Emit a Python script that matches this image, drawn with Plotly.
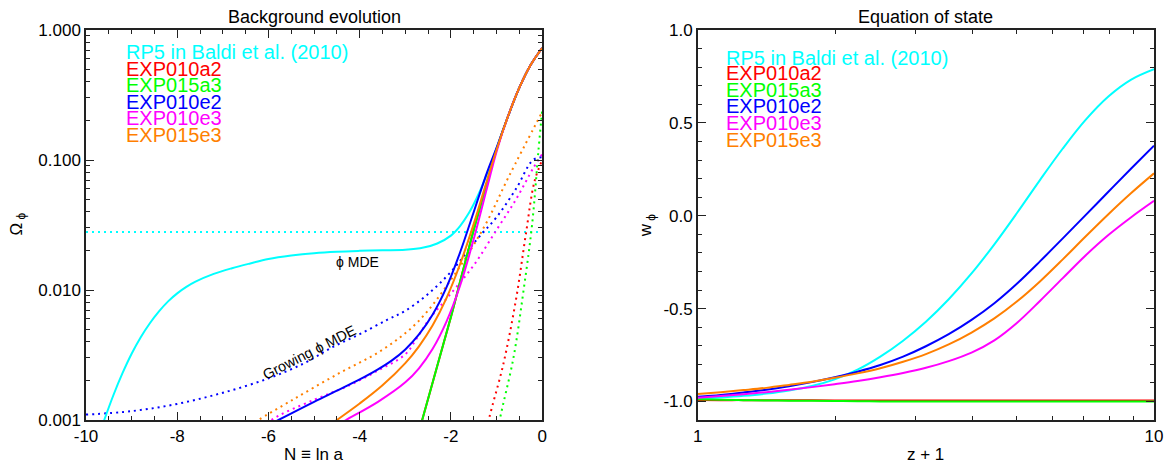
import plotly.graph_objects as go

# ---------------- Background evolution: Omega_phi vs N = ln a ----------------
rp5_N = [-9.8, -9.6, -9.4, -9.2, -9.0, -8.8, -8.6, -8.4, -8.2, -8.0, -7.8, -7.6, -7.2, -6.8,
         -6.4, -6.0, -5.5, -5.0, -4.5, -4.0, -3.5, -3.0, -2.6, -2.3, -2.0, -1.8, -1.6, -1.4,
         -1.2, -1.0, -0.75, -0.5, -0.25, 0.0]
rp5_om = [0.00063, 0.001, 0.00155, 0.00229, 0.00323, 0.00433, 0.00555, 0.00685, 0.00818,
          0.00942, 0.01056, 0.01159, 0.0133, 0.0147, 0.0160, 0.0173, 0.0184, 0.0192, 0.0197,
          0.0200, 0.0202, 0.0204, 0.0212, 0.0228, 0.0262, 0.0310, 0.0394, 0.0540, 0.0795,
          0.123, 0.216, 0.36, 0.54, 0.727]
rp5_mde_N = [-10.0, 0.0]
rp5_mde_om = [0.0279, 0.0279]

a2_N = [-2.75, -2.63, -2.3, -2.0, -1.75, -1.5, -1.25, -1.0, -0.75, -0.5, -0.25, 0.0]
a2_om = [0.00071, 0.001, 0.0026, 0.0062, 0.0135, 0.029, 0.059, 0.12, 0.216, 0.36, 0.54, 0.727]
a3_N = list(a2_N)
a3_om = list(a2_om)

e2_N = [-5.95, -5.78, -5.0, -4.5, -4.0, -3.6, -3.3, -3.0, -2.7, -2.4, -2.1, -1.8, -1.5,
        -1.2, -1.0, -0.75, -0.5, -0.25, 0.0]
e2_om = [0.00093, 0.001, 0.00138, 0.00168, 0.00205, 0.00245, 0.00286, 0.00349, 0.00455,
         0.00648, 0.01043, 0.01943, 0.03984, 0.0818, 0.124, 0.216, 0.36, 0.54, 0.727]

e3_N = [-4.5, -4.3, -3.6, -3.0, -2.7, -2.4, -2.1, -1.8, -1.5, -1.2, -1.0, -0.75, -0.5,
        -0.25, 0.0]
e3_om = [0.00091, 0.001, 0.00138, 0.00195, 0.0025, 0.00353, 0.00569, 0.01078, 0.0247,
         0.0627, 0.116, 0.216, 0.36, 0.54, 0.727]

e15_N = [-4.7, -4.5, -4.0, -3.5, -3.0, -2.7, -2.4, -2.1, -1.8, -1.5, -1.2, -1.0, -0.75,
         -0.5, -0.25, 0.0]
e15_om = [0.00089, 0.001, 0.00134, 0.00185, 0.00274, 0.00369, 0.00535, 0.00862, 0.01578,
          0.03225, 0.0714, 0.12, 0.216, 0.36, 0.54, 0.727]

# growing-MDE branches (dotted)
a2_g_N = [-1.25, -1.17, -0.85, -0.57, -0.35, -0.17, 0.0]
a2_g_om = [0.0007, 0.001, 0.0027, 0.0086, 0.028, 0.068, 0.1]
a3_g_N = [-1.0, -0.93, -0.63, -0.41, -0.22, -0.08, 0.0]
a3_g_om = [0.0007, 0.001, 0.003, 0.0098, 0.032, 0.12, 0.24]
e2_g_N = [-10.0, -9.0, -8.0, -7.0, -6.0, -5.2, -4.6, -4.0, -3.4, -3.0, -2.5, -2.0, -1.43,
          -1.0, -0.57, -0.2, 0.0]
e2_g_om = [0.0011, 0.00117, 0.00133, 0.00162, 0.00209, 0.00275, 0.00363, 0.00457, 0.00589,
           0.00692, 0.00933, 0.0138, 0.0245, 0.0363, 0.0603, 0.1, 0.105]
e3_g_N = [-6.1, -5.93, -5.0, -4.3, -3.6, -3.0, -2.74, -2.5, -2.0, -1.5, -1.0, -0.57, -0.2, 0.0]
e3_g_om = [0.00085, 0.001, 0.00143, 0.0018, 0.0024, 0.0032, 0.0043, 0.0058, 0.0094, 0.0155,
           0.029, 0.05, 0.086, 0.111]
e15_g_N = [-6.4, -6.22, -5.5, -4.5, -3.5, -2.74, -2.02, -1.28, -0.72, 0.0]
e15_g_om = [0.0009, 0.001, 0.00141, 0.00224, 0.00347, 0.00562, 0.0117, 0.0302, 0.0759, 0.234]

# ---------------- Equation of state: w_phi vs z + 1 ----------------
zp1 = [1.0, 1.122, 1.259, 1.413, 1.585, 1.778, 1.995, 2.239, 2.512, 2.818, 3.162, 3.548,
       3.981, 4.467, 5.012, 5.623, 6.310, 7.079, 7.943, 8.913, 10.0]
w_rp5 = [-0.986, -0.979, -0.970, -0.958, -0.941, -0.917, -0.881, -0.829, -0.759, -0.673,
         -0.571, -0.450, -0.311, -0.154, 0.016, 0.192, 0.362, 0.516, 0.642, 0.733, 0.789]
w_a2 = [-0.992, -0.993, -0.993, -0.994, -0.994, -0.994, -0.995, -0.995, -0.995, -0.995,
        -0.995, -0.995, -0.995, -0.995, -0.995, -0.995, -0.995, -0.995, -0.995, -0.995, -0.995]
w_a3 = [-0.988, -0.991, -0.993, -0.995, -0.996, -0.997, -0.998, -0.999, -1.0, -1.0,
        -1.0, -1.0, -1.0, -1.0, -1.0, -1.0, -1.0, -1.0, -1.0, -1.0, -1.0]
w_e2 = [-0.975, -0.965, -0.952, -0.937, -0.918, -0.896, -0.870, -0.840, -0.804, -0.759,
        -0.703, -0.638, -0.561, -0.471, -0.365, -0.246, -0.122, 0.003, 0.129, 0.254, 0.377]
w_e3 = [-0.98, -0.971, -0.961, -0.950, -0.937, -0.923, -0.907, -0.890, -0.870, -0.847,
        -0.819, -0.783, -0.737, -0.671, -0.576, -0.459, -0.336, -0.214, -0.104, -0.008, 0.080]
w_e15 = [-0.96, -0.950, -0.939, -0.927, -0.911, -0.894, -0.873, -0.849, -0.821, -0.786,
         -0.745, -0.693, -0.629, -0.553, -0.461, -0.354, -0.235, -0.112, 0.008, 0.122, 0.228]

names = ["RP5 in Baldi et al. (2010)", "EXP010a2", "EXP015a3", "EXP010e2", "EXP010e3", "EXP015e3"]
colors = ["#00FFFF", "#FF0000", "#00FF00", "#0000FF", "#FF00FF", "#FF7F00"]

FONT = "Liberation Sans, Arial, Helvetica, sans-serif"
W, H = 1171, 463
ML, MR, MT, MB = 86, 8, 30, 43
PW, PH = W - ML - MR, H - MT - MB


def px(x, y):
    """Pixel position -> paper coordinates."""
    return (x - ML) / PW, (H - MB - y) / PH


fig = go.Figure()

DOT = "2px,4px"
SOLID_W = 2.0


def add(x, y, color, dash=None, axes=("x", "y"), width=SOLID_W):
    line = dict(color=color, width=width, shape="spline", smoothing=1.0)
    if dash:
        line["dash"] = dash
    fig.add_trace(go.Scatter(x=x, y=y, mode="lines", line=line, xaxis=axes[0], yaxis=axes[1],
                             showlegend=False, hoverinfo="skip"))


# left panel: dotted first, then solid
add(rp5_mde_N, rp5_mde_om, colors[0], DOT)
add(a2_g_N, a2_g_om, colors[1], DOT)
add(a3_g_N, a3_g_om, colors[2], DOT)
add(e2_g_N, e2_g_om, colors[3], DOT)
add(e3_g_N, e3_g_om, colors[4], DOT)
add(e15_g_N, e15_g_om, colors[5], DOT)
add(rp5_N, rp5_om, colors[0])
add(a2_N, a2_om, colors[1])
add(a3_N, a3_om, colors[2])
add(e2_N, e2_om, colors[3])
add(e3_N, e3_om, colors[4])
add(e15_N, e15_om, colors[5])

# right panel
R = ("x2", "y2")
add(zp1, w_rp5, colors[0], axes=R)
add(zp1, w_a2, colors[1], axes=R)
add(zp1, w_a3, colors[2], axes=R)
add(zp1, w_e2, colors[3], axes=R)
add(zp1, w_e3, colors[4], axes=R)
add(zp1, w_e15, colors[5], axes=R)

axis_common = dict(
    showline=True, linecolor="#222222", linewidth=1.5, mirror="ticks",
    ticks="inside", ticklen=8, tickwidth=1, tickcolor="#222222",
    showgrid=False, zeroline=False,
    tickfont=dict(family=FONT, size=17, color="#000000"),
)
minor_common = dict(ticks="inside", ticklen=4, tickwidth=1, tickcolor="#222222", showgrid=False)

x1_dom = [0.0, (546 - ML) / PW]
x2_dom = [(703 - ML) / PW, 1.0]

fig.update_layout(
    width=W, height=H,
    margin=dict(l=ML, r=MR, t=MT, b=MB),
    paper_bgcolor="white", plot_bgcolor="white",
    font=dict(family=FONT, color="#000000"),
    xaxis=dict(domain=x1_dom, anchor="y", range=[-10, 0],
               tickvals=[-10, -8, -6, -4, -2, 0], ticktext=["-10", "-8", "-6", "-4", "-2", "0"],
               minor=dict(dtick=0.5, tick0=0, **minor_common), **axis_common),
    yaxis=dict(domain=[0, 1], anchor="x", type="log", range=[-3, 0],
               tickvals=[0.001, 0.01, 0.1, 1.0], ticktext=["0.001", "0.010", "0.100", "1.000"],
               minor=dict(tickvals=[m * 10 ** e for e in (-3, -2, -1) for m in range(2, 10)],
                          **minor_common), **axis_common),
    xaxis2=dict(domain=x2_dom, anchor="y2", type="log", range=[0, 1],
                tickvals=[1, 10], ticktext=["1", "10"],
                minor=dict(tickvals=list(range(2, 10)), **minor_common), **axis_common),
    yaxis2=dict(domain=[0, 1], anchor="x2", range=[-1.1, 1.0],
                tickvals=[-1.0, -0.5, 0.0, 0.5, 1.0], ticktext=["-1.0", "-0.5", "0.0", "0.5", "1.0"],
                minor=dict(dtick=0.1, tick0=0, **minor_common), **axis_common),
)

ann = []


def text_at(x, y, s, size=17, color="#000000", xanchor="center", angle=0):
    xp, yp = px(x, y)
    ann.append(dict(x=xp, y=yp, xref="paper", yref="paper", text=s, showarrow=False,
                    xanchor=xanchor, yanchor="middle", textangle=angle,
                    font=dict(family=FONT, size=size, color=color)))


# panel titles and axis titles
text_at(316, 17, "Background evolution", size=18)
text_at(933, 17, "Equation of state", size=18)
text_at(316, 455, "N \u2261 ln a", size=17)
text_at(933, 455, "z + 1", size=17)
text_at(17, 224, "\u03a9<sub> \u03d5</sub>", angle=-90)
text_at(652, 225, "w<sub> \u03d5</sub>", angle=-90)

# series labels
left_y = [52, 68.5, 85, 102, 118.5, 135]
right_y = [58, 73, 89.5, 106, 123, 140]
for n, c, yl, yr in zip(names, colors, left_y, right_y):
    text_at(124, yl, n, size=20, color=c, xanchor="left")
    text_at(729, yr, n, size=20, color=c, xanchor="left")

fig.update_layout(annotations=ann)

# labels tied to the data coordinates of the left panel
fig.add_annotation(x=-4.04, y=-1.785, xref="x", yref="y", text="\u03d5 MDE", showarrow=False,
                   font=dict(family=FONT, size=14, color="#000000"))
fig.add_annotation(x=-5.09, y=-2.477, xref="x", yref="y", text="Growing \u03d5 MDE", showarrow=False,
                   textangle=-27, font=dict(family=FONT, size=14.5, color="#000000"))

fig.write_html("out.html")
